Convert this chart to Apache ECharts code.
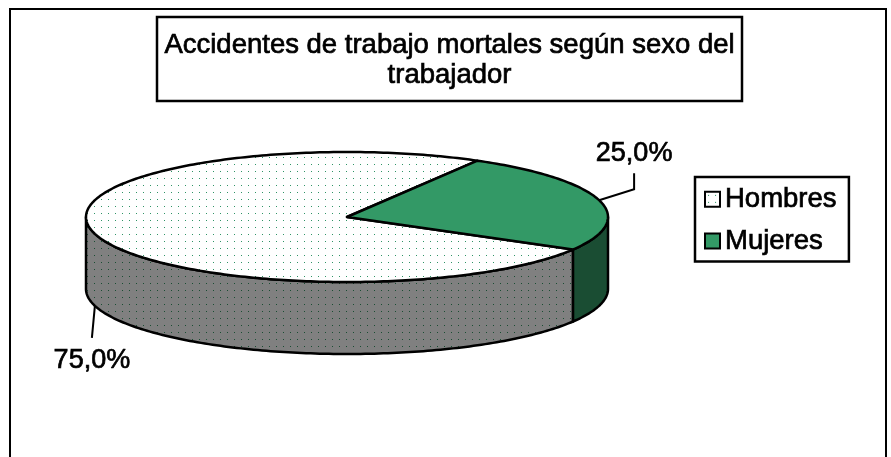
<!DOCTYPE html>
<html>
<head>
<meta charset="utf-8">
<script src="https://cdn.jsdelivr.net/npm/echarts@6/dist/echarts.min.js"></script>
<style>html,body{margin:0;padding:0;background:#fff}#c{width:891px;height:457px}</style>
</head>
<body>
<div id="c"></div>
<script>
// ---- data ----
const titleLines = ['Accidentes de trabajo mortales según sexo del', 'trabajador'];
const categories = ['Hombres', 'Mujeres'];
const values = [75, 25];
const pctLabels = ['75,0%', '25,0%'];

// ---- geometry / style ----
const CX = 347, CY = 217, RX = 261, RY = 65, DEPTH = 72, START = -30;
const FONT = '"Liberation Sans", Arial, sans-serif';
const total = values.reduce((a, b) => a + b, 0);

function makePattern(bg, dot) {
  const c = document.createElement('canvas');
  c.width = 7; c.height = 7;
  const g = c.getContext('2d');
  g.fillStyle = bg; g.fillRect(0, 0, 7, 7);
  g.fillStyle = dot; g.fillRect(3, 3, 1, 1);
  return { image: c, repeat: 'repeat' };
}
const topFill = [makePattern('#ffffff', '#2f9466'), '#339966'];
const sideFill = [makePattern('#808080', '#1a4d33'), '#1a4d33'];

function pt(deg, dy) {
  const r = deg * Math.PI / 180;
  return [CX + RX * Math.cos(r), CY - RY * Math.sin(r) + (dy || 0)];
}
function arc(a1, a2, dy) {
  const n = Math.max(2, Math.ceil(Math.abs(a2 - a1)));
  const p = [];
  for (let i = 0; i <= n; i++) p.push(pt(a1 + (a2 - a1) * i / n, dy));
  return p;
}

// slice angles from values (clockwise from START)
const slices = [];
let cum = 0;
values.forEach((v, i) => {
  const a1 = START - cum / total * 360;
  cum += v;
  const a2 = START - cum / total * 360;
  slices.push({ a1, a2 });
});

const heavyZr = { stroke: '#000', lineWidth: 0.7 };

function renderSlice(i) {
  return function (params, api) {
    const s = slices[i];
    const hi = s.a1, lo = s.a2;
    const children = [];
    // front walls
    for (let k = -2; k <= 1; k++) {
      const fLo = -180 + 360 * k, fHi = 360 * k;
      const a = Math.min(hi, fHi), b = Math.max(lo, fLo);
      if (a > b) {
        const pts = arc(a, b, 0).concat(arc(b, a, DEPTH));
        children.push({
          type: 'polygon', z2: 1,
          shape: { points: pts },
          style: { fill: sideFill[i], stroke: '#000', lineWidth: 2.5, lineJoin: 'round' }
        });
      }
    }
    // top face
    children.push({
      type: 'polygon', z2: 5,
      shape: { points: [[CX, CY]].concat(arc(hi, lo, 0)) },
      style: { fill: topFill[i], stroke: '#000', lineWidth: 2.5, lineJoin: 'round' }
    });
    // label + leader
    const mid = (hi + lo) / 2;
    const front = Math.sin(mid * Math.PI / 180) < 0;
    let line, tx, ty;
    if (front) {
      const p0 = pt(mid, DEPTH);
      const p1 = [p0[0] - 3, p0[1] + 32];
      line = [p0, p1]; tx = p1[0]; ty = p1[1] + 23;
    } else {
      const p0 = pt(mid, 0);
      const p1 = [p0[0] + 35, p0[1] - 11];
      const p2 = [p1[0], p1[1] - 16];
      line = [p0, p1, p2]; tx = p2[0]; ty = p2[1] - 20;
    }
    children.push({
      type: 'polyline', z2: 6, shape: { points: line },
      style: { stroke: '#000', lineWidth: 2, fill: null }
    });
    children.push({
      type: 'text', z2: 7, x: tx, y: ty,
      style: Object.assign({ text: pctLabels[i], fill: '#000', font: '27px ' + FONT, align: 'center', verticalAlign: 'middle' }, heavyZr)
    });
    return { type: 'group', children };
  };
}

const chart = echarts.init(document.getElementById('c'), null, { renderer: 'canvas' });
chart.setOption({
  animation: false,
  backgroundColor: '#fff',
  legend: {
    orient: 'vertical', left: 695, top: 177,
    icon: 'rect', itemWidth: 15, itemHeight: 15, itemGap: 13,
    padding: [8, 12, 6, 9],
    borderColor: '#000', borderWidth: 2.5,
    textStyle: { fontSize: 27.5, fontFamily: FONT, color: '#000', textBorderColor: '#000', textBorderWidth: 0.7 },
    selectedMode: false,
    data: categories.map((c, i) => ({
      name: c, itemStyle: { color: topFill[i], borderColor: '#000', borderWidth: 2 }
    }))
  },
  graphic: [
    { type: 'rect', shape: { x: 10, y: 9, width: 876, height: 470 }, style: { fill: null, stroke: '#000', lineWidth: 2 } },
    { type: 'rect', shape: { x: 157, y: 17, width: 585, height: 84 }, style: { fill: '#fff', stroke: '#000', lineWidth: 2.5 } },
    { type: 'text', x: 449.5, y: 60,
      style: Object.assign({ text: titleLines.join('\n'), font: '27.5px ' + FONT, fill: '#000', align: 'center', verticalAlign: 'middle', lineHeight: 30 }, heavyZr) }
  ],
  series: categories.map((c, i) => ({
    type: 'custom', name: c, coordinateSystem: 'none',
    itemStyle: { color: topFill[i] },
    data: [values[i]],
    renderItem: renderSlice(i)
  }))
});
</script>
</body>
</html>
